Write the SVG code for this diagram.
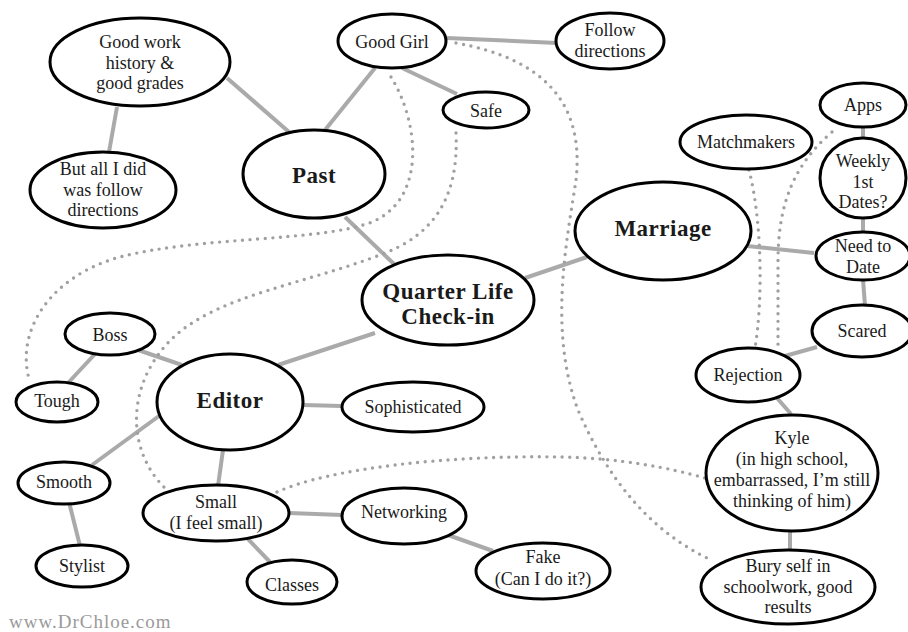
<svg xmlns="http://www.w3.org/2000/svg" width="908" height="632" viewBox="0 0 908 632">
<style>
.n ellipse{fill:#fff;stroke:#000;stroke-width:3}
.n text{font-family:"Liberation Serif","DejaVu Serif",serif;font-size:18px;fill:#1a1a1a;text-anchor:middle}
.n text.b{font-weight:bold;font-size:23px;letter-spacing:0.5px}
.c line{stroke:#aaa;stroke-width:4}
.d path{fill:none;stroke:#a0a0a0;stroke-width:3.4;stroke-linecap:round;stroke-dasharray:0 7.6}
</style>
<rect width="908" height="632" fill="#fff"/>
<g id="connectors">
<g class="c">
<line x1="227" y1="78" x2="289" y2="132"/>
<line x1="117" y1="107" x2="109" y2="152"/>
<line x1="375" y1="68" x2="325" y2="130"/>
<line x1="402" y1="68" x2="457" y2="94"/>
<line x1="447" y1="38" x2="557" y2="43"/>
<line x1="345" y1="217" x2="395" y2="265"/>
<line x1="525" y1="278" x2="587" y2="257"/>
<line x1="278" y1="365" x2="375" y2="333"/>
<line x1="138" y1="350" x2="182" y2="365"/>
<line x1="95" y1="354" x2="68" y2="383"/>
<line x1="303" y1="405" x2="342" y2="406"/>
<line x1="159" y1="416" x2="92" y2="465"/>
<line x1="223" y1="450" x2="218" y2="486"/>
<line x1="69" y1="502" x2="80" y2="546"/>
<line x1="289" y1="513" x2="342" y2="515"/>
<line x1="248" y1="539" x2="270" y2="562"/>
<line x1="448" y1="535" x2="493" y2="551"/>
<line x1="747" y1="246" x2="814" y2="253"/>
<line x1="863" y1="127" x2="863" y2="140"/>
<line x1="863" y1="216" x2="863" y2="232"/>
<line x1="863" y1="279" x2="865" y2="306"/>
<line x1="817" y1="347" x2="785" y2="356"/>
<line x1="777" y1="398" x2="791" y2="414"/>
<line x1="790" y1="530" x2="790" y2="550"/>
</g>
<g class="d">
<path d="M391,77 C418,120 428,198 372,222 C320,242 200,236 120,257 C50,276 14,332 30,382"/>
<path d="M456,133 C459,200 432,236 380,255 C300,285 222,295 176,335 C126,380 124,450 167,490"/>
<path d="M456,43 C540,58 585,100 576,180 C567,240 548,330 578,410 C608,480 650,530 707,558"/>
<path d="M277,492 C330,468 450,455 560,457 C620,458 670,468 705,478"/>
<path d="M749,170 C762,220 763,300 755,348"/>
<path d="M832,132 C790,168 778,210 778,262 L778,345"/>
</g>
</g>
<g id="good-work" class="n"><ellipse cx="140" cy="62" rx="90" ry="44"/><text x="140" y="48">Good work</text><text x="140" y="68.5">history &amp;</text><text x="140" y="89">good grades</text></g>
<g id="but-all" class="n"><ellipse cx="103" cy="190" rx="73" ry="38"/><text x="103" y="175">But all I did</text><text x="103" y="196">was follow</text><text x="103" y="216">directions</text></g>
<g id="past" class="n"><ellipse cx="314" cy="174" rx="71" ry="44"/><text class="b" x="314" y="183">Past</text></g>
<g id="good-girl" class="n"><ellipse cx="392" cy="41" rx="54" ry="27"/><text x="392" y="48">Good Girl</text></g>
<g id="follow-directions" class="n"><ellipse cx="610" cy="41" rx="54" ry="28"/><text x="610" y="36">Follow</text><text x="610" y="57">directions</text></g>
<g id="safe" class="n"><ellipse cx="486" cy="110" rx="43" ry="18"/><text x="486" y="117">Safe</text></g>
<g id="matchmakers" class="n"><ellipse cx="746" cy="142" rx="66" ry="27"/><text x="746" y="148">Matchmakers</text></g>
<g id="apps" class="n"><ellipse cx="863" cy="105" rx="43" ry="22"/><text x="863" y="111">Apps</text></g>
<g id="weekly" class="n"><ellipse cx="863" cy="178" rx="43" ry="40"/><text x="863" y="167">Weekly</text><text x="863" y="187.5">1st</text><text x="863" y="208">Dates?</text></g>
<g id="marriage" class="n"><ellipse cx="663" cy="231" rx="88" ry="49"/><text class="b" x="663" y="236">Marriage</text></g>
<g id="need-to-date" class="n"><ellipse cx="863" cy="256" rx="47" ry="24"/><text x="863" y="252">Need to</text><text x="863" y="273">Date</text></g>
<g id="scared" class="n"><ellipse cx="862" cy="331" rx="50" ry="26"/><text x="862" y="337">Scared</text></g>
<g id="rejection" class="n"><ellipse cx="748" cy="375" rx="52" ry="27"/><text x="748" y="381">Rejection</text></g>
<g id="quarter-life" class="n"><ellipse cx="448" cy="300" rx="86" ry="45"/><text class="b" x="448" y="299">Quarter Life</text><text class="b" x="448" y="324">Check-in</text></g>
<g id="kyle" class="n"><ellipse cx="792" cy="473" rx="86" ry="58"/><text x="792" y="444">Kyle</text><text x="792" y="465">(in high school,</text><text x="792" y="486">embarrassed, I’m still</text><text x="792" y="507">thinking of him)</text></g>
<g id="bury" class="n"><ellipse cx="788" cy="587" rx="87" ry="37"/><text x="788" y="572">Bury self in</text><text x="788" y="593">schoolwork, good</text><text x="788" y="613">results</text></g>
<g id="fake" class="n"><ellipse cx="543" cy="571" rx="67" ry="28"/><text x="543" y="563">Fake</text><text x="543" y="585">(Can I do it?)</text></g>
<g id="networking" class="n"><ellipse cx="404" cy="516" rx="62" ry="28"/><text x="404" y="518">Networking</text></g>
<g id="small" class="n"><ellipse cx="216" cy="513" rx="73" ry="28"/><text x="216" y="508">Small</text><text x="216" y="529">(I feel small)</text></g>
<g id="classes" class="n"><ellipse cx="292" cy="582" rx="45" ry="22"/><text x="292" y="591">Classes</text></g>
<g id="stylist" class="n"><ellipse cx="82" cy="566" rx="46" ry="21"/><text x="82" y="572">Stylist</text></g>
<g id="smooth" class="n"><ellipse cx="64" cy="483" rx="46" ry="21"/><text x="64" y="488">Smooth</text></g>
<g id="editor" class="n"><ellipse cx="230" cy="402" rx="73" ry="48"/><text class="b" x="230" y="408">Editor</text></g>
<g id="sophisticated" class="n"><ellipse cx="413" cy="407" rx="71" ry="25"/><text x="413" y="413">Sophisticated</text></g>
<g id="boss" class="n"><ellipse cx="110" cy="334" rx="45" ry="21"/><text x="110" y="341">Boss</text></g>
<g id="tough" class="n"><ellipse cx="57" cy="402" rx="41" ry="20"/><text x="57" y="407">Tough</text></g>
<text x="9" y="628" font-family="'Liberation Serif','DejaVu Serif',serif" font-size="19" letter-spacing="1" fill="#9a9a9a">www.DrChloe.com</text>
</svg>
